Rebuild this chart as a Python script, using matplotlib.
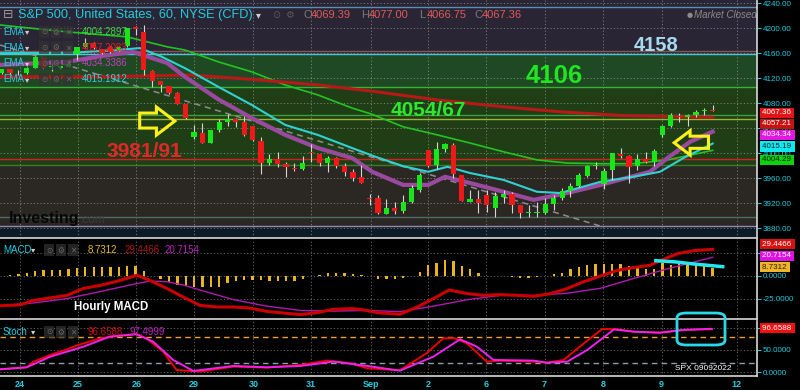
import numpy as np
import matplotlib
matplotlib.use("Agg")
import matplotlib.pyplot as plt
from matplotlib.patches import Polygon, FancyBboxPatch

plt.rcParams['font.family'] = ['Liberation Sans', 'DejaVu Sans']

# ---------------- data (hourly candles, Aug 24 -> Sep 9) ----------------
opens = [4128.5, 4133.9, 4129.5, 4127.5, 4136.5, 4153.1, 4138.1, 4135.5, 4138.1, 4157.9,
         4169.1, 4176.5, 4165.9, 4170.1, 4164.8, 4171.2, 4202.1, 4194.1, 4131.7, 4115.2,
         4107.7, 4095.5, 4078.4, 4026.1, 4031.5, 4016.5, 4036.8, 4050.1, 4054.9, 4049.6,
         4043.2, 4019.2, 3984.5, 3989.9, 3982.4, 3976.5, 3973.9, 4001.1, 3997.9, 3984.5,
         3991.5, 3979.2, 3969.1, 3961.1, 3927.5, 3927.5, 3902.4, 3911.5, 3907.7, 3922.2,
         3940.8, 4004.8, 3980.8, 4005.9, 4012.8, 3964.8, 3922.2, 3925.9, 3932.8, 3912.6,
         3930.1, 3934.4, 3916.3, 3903.5, 3904.5, 3903.5, 3917.9, 3927.5, 3939.7, 3947.2,
         3963.7, 3979.7, 3949.9, 3972.8, 3997.9, 3995.7, 3979.2, 3989.9, 3986.1, 4028.8,
         4043.2, 4059.7, 4057.1, 4060.8, 4067.2, 4069.39]
highs = [4135.0, 4135.0, 4132.8, 4138.0, 4155.2, 4154.0, 4143.5, 4140.0, 4148.8, 4169.5,
         4183.5, 4178.0, 4167.0, 4172.0, 4171.0, 4200.0, 4203.0, 4204.8, 4132.5, 4116.0,
         4108.0, 4098.1, 4079.0, 4044.8, 4048.5, 4037.5, 4054.9, 4061.9, 4056.0, 4059.7,
         4044.0, 4026.1, 3997.9, 4002.1, 3986.1, 3983.5, 3995.2, 4014.4, 3999.0, 3995.2,
         3993.0, 3983.5, 3973.9, 3980.8, 3934.4, 3932.8, 3925.9, 3922.2, 3932.8, 3948.8,
         3967.5, 4005.0, 4017.1, 4015.5, 4015.5, 3965.0, 3940.8, 3940.8, 3940.8, 3937.1,
         3940.8, 3937.1, 3917.0, 3916.8, 3922.2, 3927.5, 3932.8, 3943.5, 3951.5, 3967.5,
         3980.8, 3986.1, 3975.5, 4000.0, 4008.5, 3996.8, 3997.9, 4001.1, 4005.9, 4044.8,
         4063.5, 4063.5, 4061.9, 4068.8, 4071.5, 4077.0]
lows = [4127.0, 4127.0, 4124.8, 4126.0, 4135.5, 4134.0, 4131.2, 4134.0, 4138.0, 4148.8,
        4167.5, 4166.0, 4159.0, 4160.0, 4163.0, 4170.0, 4188.8, 4124.8, 4106.1, 4098.1,
        4095.0, 4078.0, 4054.0, 4021.9, 4016.0, 4016.0, 4034.1, 4043.2, 4042.1, 4027.7,
        4020.0, 3966.4, 3980.8, 3978.1, 3962.1, 3971.7, 3973.5, 3986.1, 3979.2, 3970.2,
        3975.5, 3963.7, 3955.7, 3952.0, 3916.8, 3902.4, 3902.0, 3902.4, 3904.5, 3919.5,
        3938.2, 3978.0, 3974.4, 4002.1, 3959.5, 3923.0, 3922.0, 3903.5, 3906.1, 3898.1,
        3919.5, 3904.5, 3895.5, 3898.1, 3898.1, 3902.4, 3908.8, 3924.8, 3929.1, 3946.1,
        3962.1, 3973.9, 3941.9, 3956.8, 3992.5, 3952.5, 3972.8, 3983.5, 3979.7, 4026.1,
        4042.1, 4050.1, 4043.2, 4057.1, 4060.8, 4066.75]
closes = [4133.9, 4128.5, 4130.0, 4136.5, 4153.1, 4135.5, 4138.6, 4139.2, 4141.9, 4169.1,
          4176.5, 4167.5, 4160.5, 4162.1, 4170.1, 4199.5, 4198.4, 4132.8, 4115.2, 4108.8,
          4095.5, 4078.4, 4055.5, 4033.1, 4016.5, 4036.8, 4049.6, 4054.9, 4049.6, 4028.8,
          4020.8, 3983.5, 3989.9, 3981.9, 3977.1, 3974.4, 3984.5, 3999.5, 3984.5, 3991.5,
          3979.2, 3969.1, 3960.5, 3952.5, 3925.9, 3903.5, 3911.5, 3907.7, 3922.2, 3943.5,
          3964.8, 3979.7, 4006.4, 4013.9, 3966.4, 3923.7, 3926.4, 3920.6, 3916.3, 3931.7,
          3934.4, 3916.3, 3903.5, 3905.1, 3906.1, 3917.9, 3927.5, 3939.2, 3947.2, 3964.8,
          3979.2, 3980.3, 3971.7, 3999.5, 3995.2, 3978.1, 3989.9, 3985.6, 4003.7, 4043.2,
          4060.8, 4057.1, 4060.3, 4066.1, 4068.8, 4067.36]

day_ticks = [2.2, 9.1, 16.1, 23.0, 30.1, 37.0, 44.1, 51.0, 57.9, 64.9, 71.9, 78.9, 87.9]
day_labels = ['24', '25', '26', '29', '30', '31', 'Sep', '2', '6', '7', '8', '9', '12']

# moving averages (bar position, price)
green_x = [-0.2, 7.8, 15.0, 19.8, 21.9, 25.9, 29.9, 33.9, 37.8, 41.9, 44.3, 48.0, 52.1,
           56.0, 60.0, 64.0, 67.6, 71.6, 75.5, 79.6, 85.0]
green_v = [4205, 4194, 4186, 4170, 4165, 4146, 4130, 4109, 4093, 4072, 4062, 4042, 4029,
           4016, 4002, 3989, 3984, 3983, 3983, 3989, 4004.3]
red_x = [-0.2, 11.8, 22.5, 29.9, 37.8, 44.3, 52.1, 60.0, 66.8, 74.2, 85.0]
red_v = [4122, 4122, 4125, 4118, 4109, 4099, 4085, 4074, 4066, 4060, 4057.2]
purple_x = [-0.2, 7.8, 11.8, 15.7, 19.8, 21.9, 25.9, 29.9, 33.9, 37.8, 41.9, 44.3, 48.0,
            51.0, 53.0, 56.0, 60.0, 63.6, 67.6, 71.6, 75.5, 77.5, 79.6, 82.3, 85.0]
purple_v = [4141, 4146, 4155, 4162, 4144, 4122, 4086, 4056, 4029, 4008, 3992, 3970, 3949,
            3949, 3962, 3952, 3938, 3925, 3936, 3949, 3963, 3970, 3992, 4018, 4034.3]
cyan_x = [-0.2, 7.8, 13.8, 16.5, 19.0, 21.9, 25.9, 29.9, 33.9, 37.8, 41.9, 44.7, 48.0,
          51.0, 53.3, 56.0, 60.0, 64.0, 66.8, 71.6, 75.5, 78.7, 81.5, 85.0]
cyan_v = [4160, 4160, 4165, 4168, 4155, 4136, 4106, 4077, 4045, 4029, 4008, 3994, 3979,
          3970, 3978, 3968, 3957, 3938, 3936, 3954, 3962, 3970, 3992, 4015.2]
trend_x = [-0.2, 71.6]
trend_v = [4173, 3883]
ema_legend = ['4004.2897', '4057.2083', '4034.3386', '4015.1912']

# horizontal levels and shaded zones
level_prices = [4234, 4163, 4158, 4106, 4061, 4054, 3991, 3981, 3897, 3884]
level_colors = ['#5b8fb0', '#7a5a52', '#4cc6d6', '#36b236', '#3c9e3c', '#9ab432',
                '#d42020', '#3f7a2c', '#4a6a66', '#9a88b0']
zone_edges = [4245, 4158, 4106, 3981, 3884, 3864]
zone_colors = ['#2a2534', '#1e4923', '#203e16', '#2b2824', '#0c1b26']

# MACD
macd_hist = [0.3, 0.8, 1.9, 3.8, 5.3, 6.1, 6.8, 6.8, 7.2, 9.1,
             10.2, 10.2, 9.5, 9.9, 9.9, 11.4, 11.0, 5.3, -0.5, -3.8,
             -6.8, -9.5, -10.6, -12.5, -12.5, -12.5, -11.7, -8.0, -5.7, -4.9,
             -4.5, -4.9, -5.7, -5.7, -5.7, -5.3, -3.0, -0.3, 0.8, 3.8,
             3.8, 3.0, 2.7, 1.5, 0.2, -3.0, -3.0, -3.0, -2.3, 0.3,
             4.5, 12.0, 14.0, 17.8, 16.7, 11.0, 7.6, 3.4, 0.2, -0.3,
             -0.5, -1.1, -1.9, -1.9, -0.8, 0.3, 1.9, 3.8, 7.2, 9.5,
             12.1, 13.3, 12.9, 13.3, 13.3, 11.0, 9.1, 7.6, 7.6, 14.5,
             12.5, 12.9, 12.9, 12.1, 11.0, 8.73]
macd_x = [-0.2, 2.2, 3.8, 7.8, 9.7, 11.8, 13.8, 16.2, 17.7, 19.8, 21.7, 23.7, 25.7, 27.7,
          29.7, 31.7, 35.7, 37.7, 39.6, 41.7, 42.9, 44.9, 47.6, 49.7, 51.6, 53.5, 55.7,
          57.6, 59.6, 61.6, 63.6, 65.6, 67.6, 69.5, 71.6, 73.6, 75.5, 77.5, 78.8, 80.8,
          82.7, 85.0]
macd_v = [-33.0, -32.0, -27.0, -21.5, -14.0, -10.3, -5.8, 0.8, -4.8, -14.0, -23.3, -32.5,
          -34.3, -34.3, -35.5, -39.2, -42.8, -40.6, -36.9, -36.1, -36.9, -40.6, -42.4,
          -34.3, -25.1, -15.5, -19.6, -21.4, -20.6, -21.4, -22.5, -19.6, -14.0, -6.6, 0.0,
          6.2, 9.3, 11.8, 17.3, 24.7, 28.0, 29.45]
sig_x = [-0.2, 3.8, 7.8, 11.8, 15.7, 17.7, 19.8, 21.7, 23.7, 27.7, 31.7, 35.7, 39.6, 43.7,
         47.6, 51.6, 55.7, 59.6, 63.6, 67.6, 71.6, 75.5, 79.6, 85.0]
sig_v = [-33.0, -29.8, -25.1, -17.2, -9.3, -5.7, -6.4, -10.0, -15.5, -26.2, -33.4, -38.1,
         -38.9, -38.1, -39.5, -33.4, -26.2, -21.5, -21.5, -19.1, -13.6, -2.9, 7.9, 20.7]

# Stochastic
stk_x = [-0.2, 3.0, 3.8, 5.8, 7.8, 9.4, 11.8, 13.8, 16.1, 17.3, 19.3, 20.9, 23.7, 27.7,
         31.7, 35.7, 38.9, 41.7, 43.7, 47.6, 50.8, 52.8, 54.2, 55.6, 58.0, 59.6, 63.6,
         65.2, 67.2, 69.6, 71.8, 73.4, 75.6, 78.7, 81.5, 84.9]
stk_v = [6.7, 11.2, 23.8, 38.8, 51.5, 62.8, 76.2, 81.5, 86.0, 76.2, 46.3, 5.2, 1.5, 12.7,
         10.5, 16.5, 26.2, 20.2, 9.0, 4.5, 42.7, 76.2, 76.2, 65.0, 23.8, 26.0, 23.8,
         21.6, 27.7, 65.0, 97.0, 97.0, 91.0, 88.8, 95.0, 96.66]
std_x = [-0.2, 3.0, 5.8, 9.8, 12.9, 16.1, 18.1, 20.5, 22.9, 27.7, 31.7, 35.7, 39.7, 43.7,
         47.6, 51.6, 54.8, 56.8, 58.8, 63.6, 65.2, 67.6, 70.0, 73.2, 75.6, 78.7, 81.5, 84.9]
std_v = [6.7, 11.2, 35.0, 57.6, 80.0, 85.2, 68.8, 27.7, 3.0, 14.2, 11.2, 14.2, 24.0, 14.2,
         3.7, 35.0, 74.0, 57.6, 27.7, 26.2, 21.6, 23.8, 50.0, 96.0, 91.0, 88.8, 95.0, 97.5]

# ---------------- layout helpers ----------------
W, H = 800, 390
CYAN = '#22cde0'


def rect(x0, y0, x1, y1):
    return [x0 / W, 1 - y1 / H, (x1 - x0) / W, (y1 - y0) / H]


def ftext(x, y, s, **kw):
    kw.setdefault('va', 'center')
    fig.text(x / W, 1 - y / H, s, **kw)


def side_box(a, y, s, face, fg):
    a.text(1.006, y, s + ' ', transform=a.get_yaxis_transform(), ha='left', va='center',
           fontsize=5.8, color=fg, zorder=20, clip_on=False,
           bbox=dict(boxstyle='square,pad=0.2', fc=face, ec='none'))


def icons(x, y):
    for k, g in enumerate(['⊙', '⚙', '✕']):
        ftext(x + k * 12, y, g, color='#6a6a6a', fontsize=5.5, ha='center',
              family='DejaVu Sans',
              bbox=dict(boxstyle='square,pad=0.25', fc='#333333', ec='none', alpha=0.7))


fig = plt.figure(figsize=(8, 3.9), dpi=100, facecolor='black')
ax = fig.add_axes(rect(0, 0, 757, 238))
ax_m = fig.add_axes(rect(0, 239, 757, 319), sharex=ax)
ax_s = fig.add_axes(rect(0, 321, 757, 376), sharex=ax)

for a in (ax, ax_m, ax_s):
    a.set_facecolor('black')
    a.set_axisbelow(True)
    for side in ('top', 'left'):
        a.spines[side].set_visible(False)
    for side in ('bottom', 'right'):
        a.spines[side].set_color('#d8d8d8')
        a.spines[side].set_linewidth(1.2)
    a.yaxis.tick_right()
    a.tick_params(axis='y', colors=CYAN, labelsize=5.8, length=3, width=0.7, pad=1)
    a.tick_params(axis='x', length=0)
    a.grid(color='#c8c8c8', ls=(0, (1.5, 2.5)), lw=0.6, alpha=0.55)

ax.set_xticks(day_ticks)
ax.set_xticklabels(day_labels)
ax.tick_params(labelbottom=False)
ax_m.tick_params(labelbottom=False)
ax_s.tick_params(axis='x', colors=CYAN, labelsize=6.5, pad=3)
for lab in ax_s.get_xticklabels():
    lab.set_fontweight('bold')
ax.set_xlim(-0.2, 90.3)

# ---------------- price pane ----------------
for top, bot, col in zip(zone_edges[:-1], zone_edges[1:], zone_colors):
    ax.axhspan(bot, top, color=col, lw=0, zorder=0)
for p, col in zip(level_prices, level_colors):
    ax.axhline(p, color=col, lw=1.0, zorder=1)

ax.plot(trend_x, trend_v, color='#8c8c8c', lw=1.1, ls=(0, (4, 3)), zorder=2)
ax.plot(green_x, green_v, color='#22c422', lw=1.2, zorder=2)
ax.plot(red_x, red_v, color='#b81818', lw=2.2, zorder=2)
ax.plot(purple_x, purple_v, color='#9a4a9e', lw=3.0, zorder=2)
ax.plot(cyan_x, cyan_v, color='#2fd2d2', lw=1.5, zorder=2)

idx = np.arange(len(closes))
o, c = np.array(opens), np.array(closes)
body_col = np.where(c >= o, '#19e619', '#f01818')
ax.vlines(idx, lows, highs, color='#d5d5d5', lw=0.8, zorder=3)
ax.bar(idx, np.maximum(np.abs(c - o), 0.9), bottom=np.minimum(o, c), width=0.62,
       color=body_col, lw=0, zorder=4)

price_ticks = [3880, 3920, 3960, 4000, 4040, 4080, 4120, 4160, 4200, 4240]
ax.set_yticks(price_ticks)
ax.set_yticklabels([f'{t:.2f}' for t in price_ticks])
ax.set_ylim(3864, 4245)

# level annotations
ax.text(78.2, 4171.5, '4158', color='#a6d8f0', fontsize=14.5, fontweight='bold',
        ha='center', va='center', zorder=6)
ax.text(66.1, 4122.7, '4106', color='#1fe61f', fontsize=18.5, fontweight='bold',
        ha='center', va='center', zorder=6)
ax.text(51.0, 4068.8, '4054/67', color='#2fe62f', fontsize=15, fontweight='bold',
        ha='center', va='center', zorder=6)
ax.text(17.1, 4003.2, '3981/91', color='#e3262a', fontsize=15, fontweight='bold',
        ha='center', va='center', zorder=6)

arrow_right = [(16.5, 4064), (18.5, 4064), (18.5, 4073.6), (20.7, 4051.2),
               (18.5, 4028.8), (18.5, 4040), (16.5, 4040)]
arrow_left = [(80.4, 4016.5), (82.3, 4035.7), (82.3, 4027), (84.5, 4027),
              (84.5, 4007.5), (82.3, 4007.5), (82.3, 3996.8)]
for pts in (arrow_right, arrow_left):
    ax.add_patch(Polygon(pts, closed=True, fill=False, ec='#fff01a', lw=2.2, zorder=7))

side_box(ax, 4064.5, f'{closes[-1]:.2f}', '#e01515', 'white')
side_box(ax, 4047.0, '4057.21', '#c81010', 'white')
side_box(ax, 4029.0, '4034.34', '#e018e0', 'white')
side_box(ax, 4010.5, '4015.19', '#10e8f0', '#102020')
side_box(ax, 3989.0, '4004.29', '#10d010', '#102010')

# ---------------- MACD pane ----------------
ax_m.bar(idx, macd_hist, width=0.28, color='#e8b420', lw=0, zorder=2)
ax_m.plot(sig_x, sig_v, color='#b019b0', lw=1.0, zorder=3)
ax_m.plot(macd_x, macd_v, color='#cc0000', lw=2.2, zorder=3)
ax_m.plot([78.2, 80.5, 83.0, 86.2], [16.9, 15.6, 13.0, 10.3], color='#22e8f0', lw=2.5,
          zorder=5)
ax_m.set_yticks([-25, 0, 25])
ax_m.set_yticklabels(['-25.0000', '0.0000', ''])
ax_m.set_ylim(-47.6, 40.9)
side_box(ax_m, 35.0, '29.4466', '#d81010', 'white')
side_box(ax_m, 22.5, '20.7154', '#e010e0', 'white')
side_box(ax_m, 9.6, '8.7312', '#f0b428', '#2a2000')
ax_m.text(8.6, -34, 'Hourly MACD', color='white', fontsize=8.3, fontweight='bold',
          ha='left', va='center', zorder=6)

# ---------------- Stochastic pane ----------------
ax_s.axhline(80, color='#f0a030', lw=1.0, ls=(0, (4, 3)), zorder=1)
ax_s.axhline(20, color='#8fa0a8', lw=1.0, ls=(0, (4, 3)), zorder=1)
ax_s.plot(stk_x, stk_v, color='#ee0000', lw=1.4, zorder=3)
ax_s.plot(std_x, std_v, color='#ee22ee', lw=1.4, zorder=3)
ax_s.set_yticks([0, 50, 100])
ax_s.set_yticklabels(['0.0000', '50.0000', ''])
ax_s.set_ylim(-8.3, 115)
side_box(ax_s, 98.7, '96.6588', '#f01010', 'white')

# ---------------- header and legends ----------------
ftext(3, 15, '⊟', color='#9a9a9a', fontsize=9, family='DejaVu Sans')
ftext(18, 15, 'S&P 500, United States, 60, NYSE (CFD)', color=CYAN, fontsize=9.2)
ftext(256, 15, '▾', color='#cfcfcf', fontsize=7, family='DejaVu Sans')
for k, g in enumerate(['⊙', '⚙']):
    ftext(276 + k * 13, 15, g, color='#5a5a5a', fontsize=7, ha='center',
          family='DejaVu Sans')
ohlc = [('O', 303, '4069.39'), ('H', 361, '4077.00'), ('L', 419, '4066.75'),
        ('C', 474, '4067.36')]
for letter, x0, val in ohlc:
    ftext(x0, 15, letter, color='#7a7a7a', fontsize=8)
    ftext(x0 + 7.5, 15, val, color='#e05a5a', fontsize=8)
ftext(687, 15, '●', color='#8a8a8a', fontsize=5, family='DejaVu Sans')
ftext(694, 15, 'Market Closed', color='#8a8a8a', fontsize=7, style='italic')

ema_colors = ['#3cd83c', '#e02020', '#c040c0', '#30d0e0']
for k, (val, col) in enumerate(zip(ema_legend, ema_colors)):
    yy = 32 + k * 15.7
    ftext(3, yy, 'EMA', color=CYAN, fontsize=7)
    ftext(25, yy, '▾', color='#cfcfcf', fontsize=6, family='DejaVu Sans')
    icons(44, yy)
    ftext(82, yy, val, color=col, fontsize=7)

ftext(3, 250, 'MACD', color=CYAN, fontsize=7)
ftext(31, 250, '▾', color='#cfcfcf', fontsize=6, family='DejaVu Sans')
icons(49, 250)
ftext(88, 250, '8.7312', color='#e6b830', fontsize=7)
ftext(125, 250, '29.4466', color='#b01818', fontsize=7)
ftext(165, 250, '20.7154', color='#c020c0', fontsize=7)

ftext(3, 332, 'Stoch', color=CYAN, fontsize=7)
ftext(31, 332, '▾', color='#cfcfcf', fontsize=6, family='DejaVu Sans')
icons(49, 332)
ftext(88, 332, '96.6588', color='#d01010', fontsize=7)
ftext(129, 332, '97.4999', color='#c020c0', fontsize=7)

ftext(9, 218, 'Investing', color='#060606', fontsize=11.5, fontweight='bold')
ftext(80, 220, '.com', color='#3c3c3c', fontsize=8.5)
ftext(675, 368, 'SPX 09092022', color='white', fontsize=6)

fig.add_artist(FancyBboxPatch((677 / W, 1 - 345 / H), 48 / W, 32 / H,
                              boxstyle='round,pad=0,rounding_size=0.012',
                              transform=fig.transFigure, fill=False,
                              ec='#2ad8e8', lw=2, zorder=10))

fig.savefig('out.png', dpi=100, facecolor='black')
